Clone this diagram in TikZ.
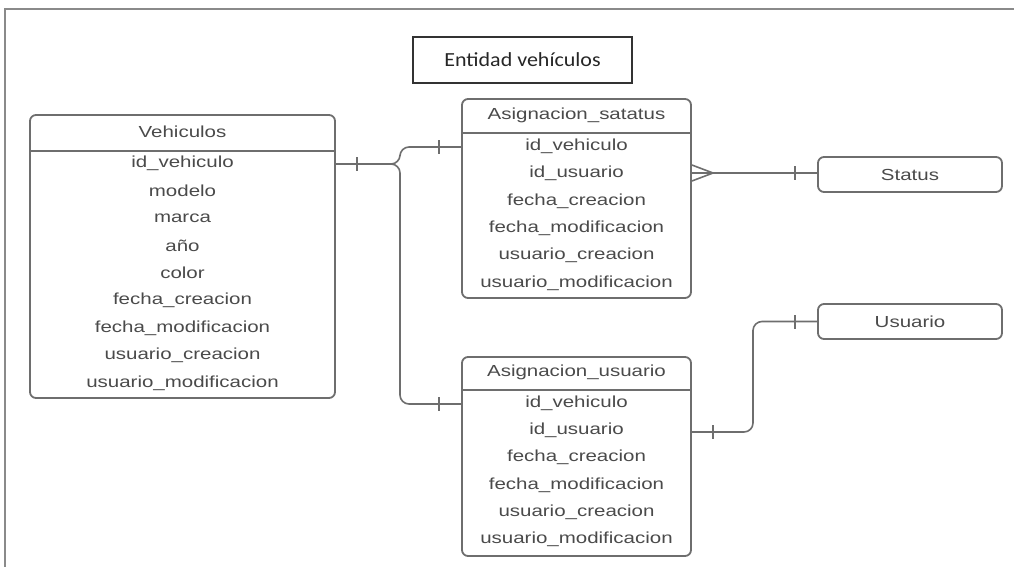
\documentclass[tikz,border=0pt]{standalone}
\usepackage{fontspec}
\setmainfont{Liberation Sans}[FakeStretch=1.28]
\newfontfamily\titlefont{Carlito}[FakeStretch=1.1]
\definecolor{linegray}{HTML}{6E6E6E}
\definecolor{framegray}{HTML}{8A8A8A}
\definecolor{txtgray}{HTML}{4A4A4A}
\begin{document}
\begin{tikzpicture}[x=1pt,y=-1pt,
  conn/.style={draw=linegray, line width=1.6pt},
  tbl/.style={draw=linegray, line width=1.8pt, rounded corners=6pt, inner sep=0pt},
  cell/.style={text=txtgray, font=\fontsize{16}{18}\selectfont, inner sep=0pt, anchor=center},
  titlebox/.style={draw=black!80, line width=1.3pt, inner sep=0pt, text=black!85, font=\titlefont\fontsize{20}{23}\selectfont}]
\useasboundingbox (0,0) rectangle (1014,567);
% outer frame
\draw[framegray, line width=2pt] (5,567) -- (5,9) -- (1014,9);
% title
\node[titlebox, minimum width=219pt, minimum height=46pt] (title) at (522.5,60) {Entidad vehículos};
% Vehiculos table
\node[tbl, minimum width=305pt, minimum height=283pt] (veh) at (182.5,256.5) {};
\draw[conn] (veh.west |- 0,151) -- (veh.east |- 0,151);
\node[cell] (vehh) at (182.5,132) {Vehiculos};
\foreach \t [count=\i from 0] in {id\_vehiculo,modelo,marca,año,color,fecha\_creacion,fecha\_modificacion,usuario\_creacion,usuario\_modificacion}
  \node[cell] (veh-\i) at (182.5,{163+27.5*\i}) {\t};
% Asignacion_satatus
\node[tbl, minimum width=229pt, minimum height=199pt] (sat) at (576.5,198.5) {};
\draw[conn] (sat.west |- 0,133) -- (sat.east |- 0,133);
\node[cell] (sath) at (576.5,115) {Asignacion\_satatus};
\foreach \t [count=\i from 0] in {id\_vehiculo,id\_usuario,fecha\_creacion,fecha\_modificacion,usuario\_creacion,usuario\_modificacion}
  \node[cell] (sat-\i) at (576.5,{146+27.4*\i}) {\t};
% Asignacion_usuario
\node[tbl, minimum width=229pt, minimum height=199pt] (asu) at (576.5,456.5) {};
\draw[conn] (asu.west |- 0,390) -- (asu.east |- 0,390);
\node[cell] (asuh) at (576.5,372) {Asignacion\_usuario};
\foreach \t [count=\i from 0] in {id\_vehiculo,id\_usuario,fecha\_creacion,fecha\_modificacion,usuario\_creacion,usuario\_modificacion}
  \node[cell] (asu-\i) at (576.5,{403+27.3*\i}) {\t};
% Status and Usuario
\node[tbl, minimum width=184pt, minimum height=35pt] (status) at (910,174.5) {};
\node[cell] (statust) at (status.center) {Status};
\node[tbl, minimum width=184pt, minimum height=35pt] (usuario) at (910,321.5) {};
\node[cell] (usuariot) at (usuario.center) {Usuario};
% connector coordinates
\coordinate (j) at (400,164);
\coordinate (cf) at (713,173);
\coordinate (k) at (753,432);
% Vehiculos -> Asignacion_satatus / Asignacion_usuario
\draw[conn, rounded corners=9pt] (veh.east |- j) -- (j) -- (j |- 0,147) -- (sat.west |- 0,147);
\draw[conn, rounded corners=9pt] (veh.east |- j) -- (j) -- (j |- 0,404) -- (asu.west |- 0,404);
\draw[conn] (357,157) -- (357,171);
\draw[conn] (439,140) -- (439,154);
\draw[conn] (439,397) -- (439,411);
% Asignacion_satatus -> Status (crow's foot)
\draw[conn] (sat.east |- 0,165) -- (cf);
\draw[conn] (sat.east |- 0,181) -- (cf);
\draw[conn] (sat.east |- cf) -- (status.west |- cf);
\draw[conn] (795,166) -- (795,180);
% Asignacion_usuario -> Usuario
\draw[conn, rounded corners=9pt] (asu.east |- k) -- (k) -- (k |- usuario.west) -- (usuario.west);
\draw[conn] (713,425) -- (713,439);
\draw[conn] (795,315) -- (795,329);
\end{tikzpicture}
\end{document}
